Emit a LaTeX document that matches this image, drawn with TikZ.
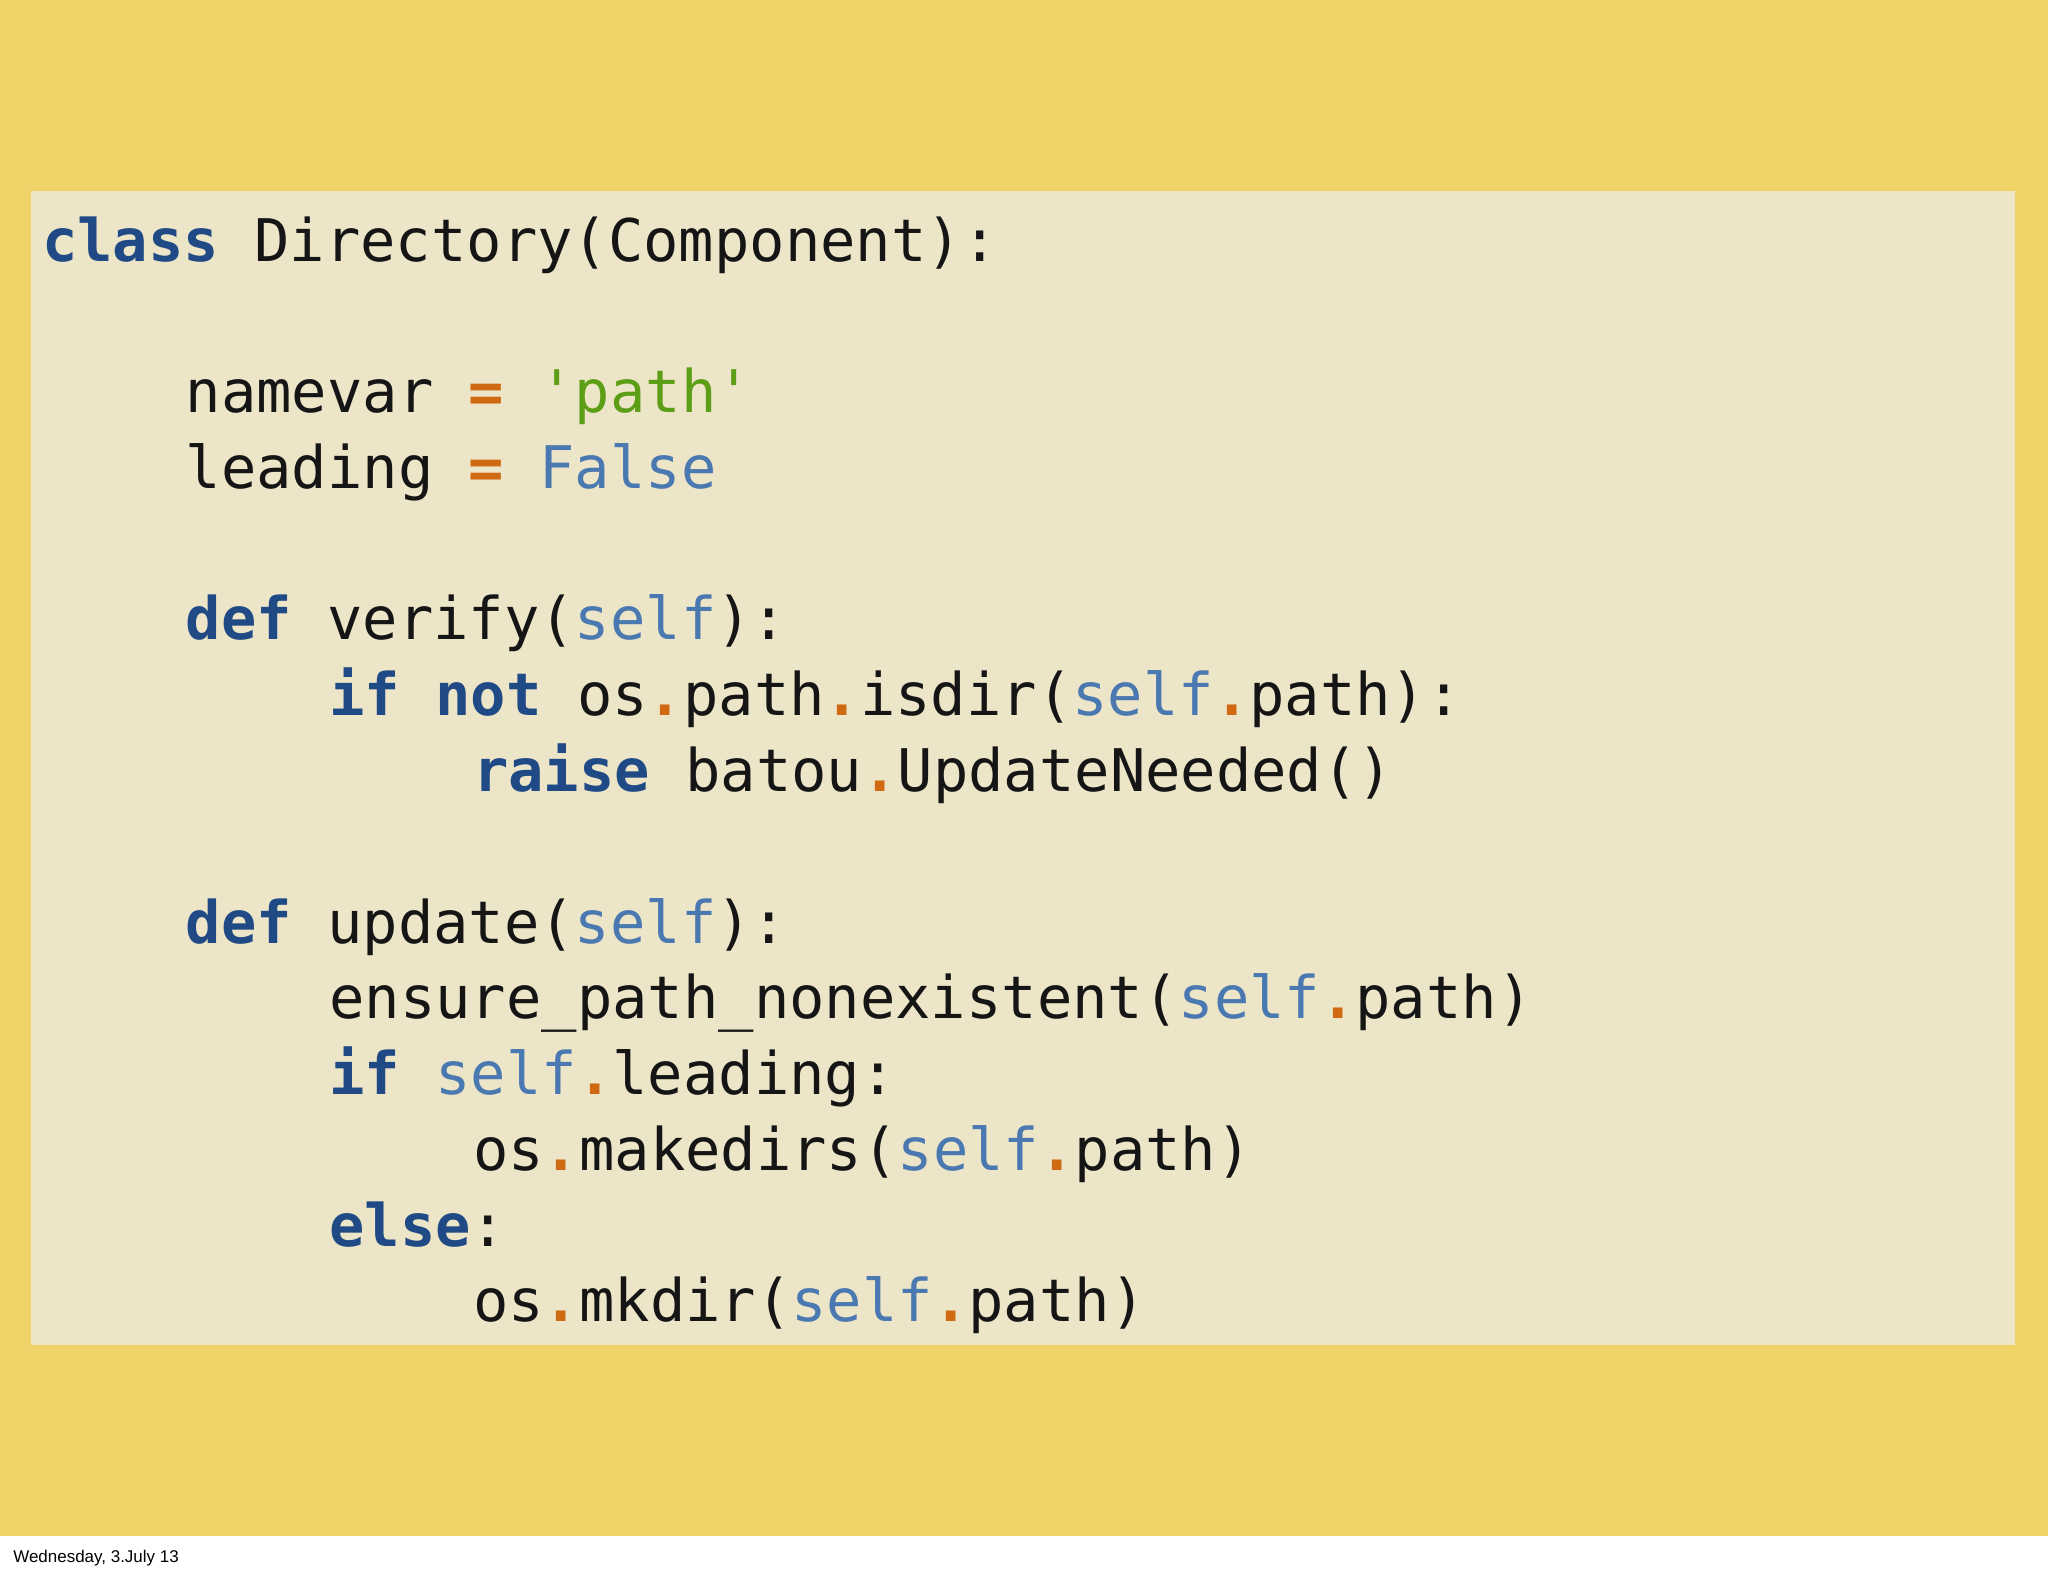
\documentclass[tikz,border=0pt]{standalone}
\usepackage{fontspec}
\setmonofont{DejaVu Sans Mono}
\setmainfont{Liberation Sans}
\definecolor{bgy}{HTML}{F0D266}
\definecolor{codebg}{HTML}{EDE5C8}
\definecolor{kwc}{HTML}{1F4A85}
\definecolor{svc}{HTML}{4A78B0}
\definecolor{opc}{HTML}{CF6A12}
\definecolor{stc}{HTML}{5C9E16}
\definecolor{txc}{HTML}{151515}
\newcommand{\kw}[1]{\textcolor{kwc}{\bfseries #1}}
\newcommand{\sv}[1]{\textcolor{svc}{#1}}
\newcommand{\op}[1]{\textcolor{opc}{\bfseries #1}}
\newcommand{\stt}[1]{\textcolor{stc}{#1}}
\tikzset{codeline/.style={anchor=base west,inner sep=0pt,font=\ttfamily\fontsize{45}{58}\selectfont,text=txc}}
\begin{document}
\begin{tikzpicture}[x=1pt,y=1pt]
\useasboundingbox (0,0) rectangle (1568,1206);
\fill[white] (0,0) rectangle (1568,1206);
\fill[bgy] (0,30) rectangle (1568,1206);
\fill[codebg] (24,176) rectangle (1543,1060);
\node[anchor=base west,inner sep=0pt,font=\fontsize{13}{15}\selectfont] (foot) at (10,10) {Wednesday, 3.July 13};
\node[codeline] (l1) at (32,1206-200) {\kw{class} Directory(Component):};
\node[codeline] (l2) at (142,1206-316) {namevar \op{=} \stt{'path'}};
\node[codeline] (l3) at (142,1206-374) {leading \op{=} \sv{False}};
\node[codeline] (l4) at (142,1206-490) {\kw{def} verify(\sv{self}):};
\node[codeline] (l5) at (252,1206-548) {\kw{if} \kw{not} os\op{.}path\op{.}isdir(\sv{self}\op{.}path):};
\node[codeline] (l6) at (362,1206-606) {\kw{raise} batou\op{.}UpdateNeeded()};
\node[codeline] (l7) at (142,1206-722) {\kw{def} update(\sv{self}):};
\node[codeline] (l8) at (252,1206-780) {ensure\_path\_nonexistent(\sv{self}\op{.}path)};
\node[codeline] (l9) at (252,1206-838) {\kw{if} \sv{self}\op{.}leading:};
\node[codeline] (l10) at (362,1206-896) {os\op{.}makedirs(\sv{self}\op{.}path)};
\node[codeline] (l11) at (252,1206-954) {\kw{else}:};
\node[codeline] (l12) at (362,1206-1012) {os\op{.}mkdir(\sv{self}\op{.}path)};
\end{tikzpicture}
\end{document}
